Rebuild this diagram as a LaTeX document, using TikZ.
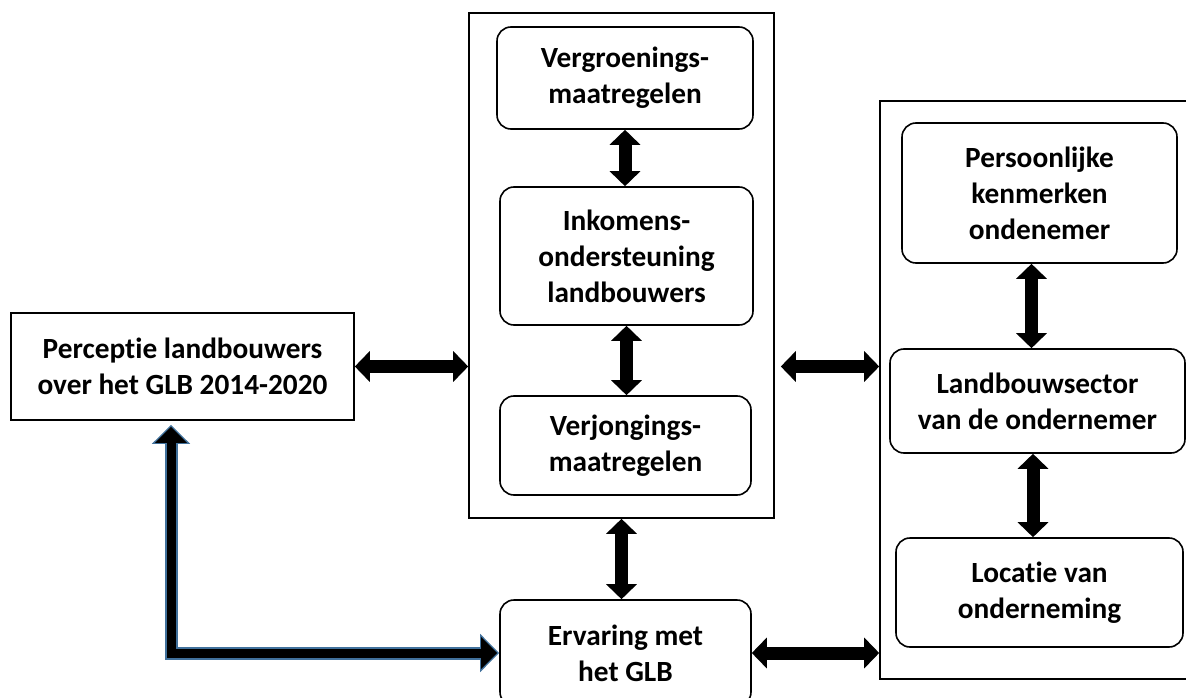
\documentclass[tikz,border=0pt]{standalone}
\usepackage{fontspec}
\setmainfont{Carlito}[Ligatures=NoCommon]
\usetikzlibrary{arrows.meta}
\definecolor{randblauw}{RGB}{65,113,156}
\tikzset{
  blok/.style={draw, line width=1.6pt, inner sep=0pt, align=center, font=\bfseries\fontsize{29.3}{36}\selectfont},
  rondblok/.style={blok, rounded corners=14pt},
  kader/.style={draw, line width=1.6pt, inner sep=0pt},
  dikpijl/.style={line width=13pt, {Triangle[width=30pt,length=15pt]}-{Triangle[width=30pt,length=15pt]}},
  blauwrand/.style={draw=randblauw, line width=13pt, {Triangle[width=37pt,length=19pt]}-{Triangle[width=37pt,length=19pt]}},
  blauwkern/.style={draw=black, line width=9pt, shorten <=2pt, shorten >=2pt, {Triangle[width=31pt,length=16pt]}-{Triangle[width=31pt,length=16pt]}}
}
\begin{document}
\begin{tikzpicture}[x=1pt,y=-1pt]
    \useasboundingbox (0,0) rectangle (1186,698);
    \node[kader, minimum width=305pt, minimum height=505pt] (mid) at (621.5,265.5) {};
    \node[kader, minimum width=316pt, minimum height=578pt] (rechts) at (1038,390) {};
    \node[blok, minimum width=343pt, minimum height=107pt] (perc) at (182.5,366.5) {Perceptie landbouwers\\over het GLB 2014-2020};
    \node[rondblok, minimum width=256pt, minimum height=102pt] (groen) at (625,78) {Vergroenings-\\maatregelen};
    \node[rondblok, minimum width=253pt, minimum height=138pt] (ink) at (626.5,256) {Inkomens-\\ondersteuning\\landbouwers};
    \node[rondblok, minimum width=251pt, minimum height=99pt] (verj) at (625.5,445.5) {Verjongings-\\maatregelen};
    \node[rondblok, minimum width=251pt, minimum height=106pt] (erv) at (625.5,653) {Ervaring met\\het GLB};
    \node[rondblok, minimum width=275pt, minimum height=140pt] (pers) at (1039.5,193) {Persoonlijke\\kenmerken\\ondenemer};
    \node[rondblok, minimum width=295pt, minimum height=104pt] (sector) at (1037.5,401) {Landbouwsector\\van de ondernemer};
    \node[rondblok, minimum width=287pt, minimum height=109pt] (loc) at (1039.5,592.5) {Locatie van\\onderneming};
    \draw[dikpijl] (perc.east) -- (perc.east -| mid.west);
    \draw[dikpijl, shorten <=6pt] (mid.east |- perc.east) -- (rechts.west |- perc.east);
    \draw[dikpijl] (erv.east) -- (erv.east -| rechts.west);
    \draw[dikpijl] (groen.south) -- (groen.south |- ink.north);
    \draw[dikpijl] (ink.south) -- (ink.south |- verj.north);
    \draw[dikpijl] (mid.south) -- (mid.south |- erv.north);
    \draw[dikpijl, transform canvas={xshift=-8pt}] (pers.south) -- (pers.south |- sector.north);
    \draw[dikpijl, transform canvas={xshift=-4.5pt}] (sector.south) -- (sector.south |- loc.north);
    \draw[blauwrand] ([xshift=-11.5pt,yshift=-4pt]perc.south) |- (erv.west);
    \draw[blauwkern] ([xshift=-11.5pt,yshift=-4pt]perc.south) |- (erv.west);
\end{tikzpicture}
\end{document}
